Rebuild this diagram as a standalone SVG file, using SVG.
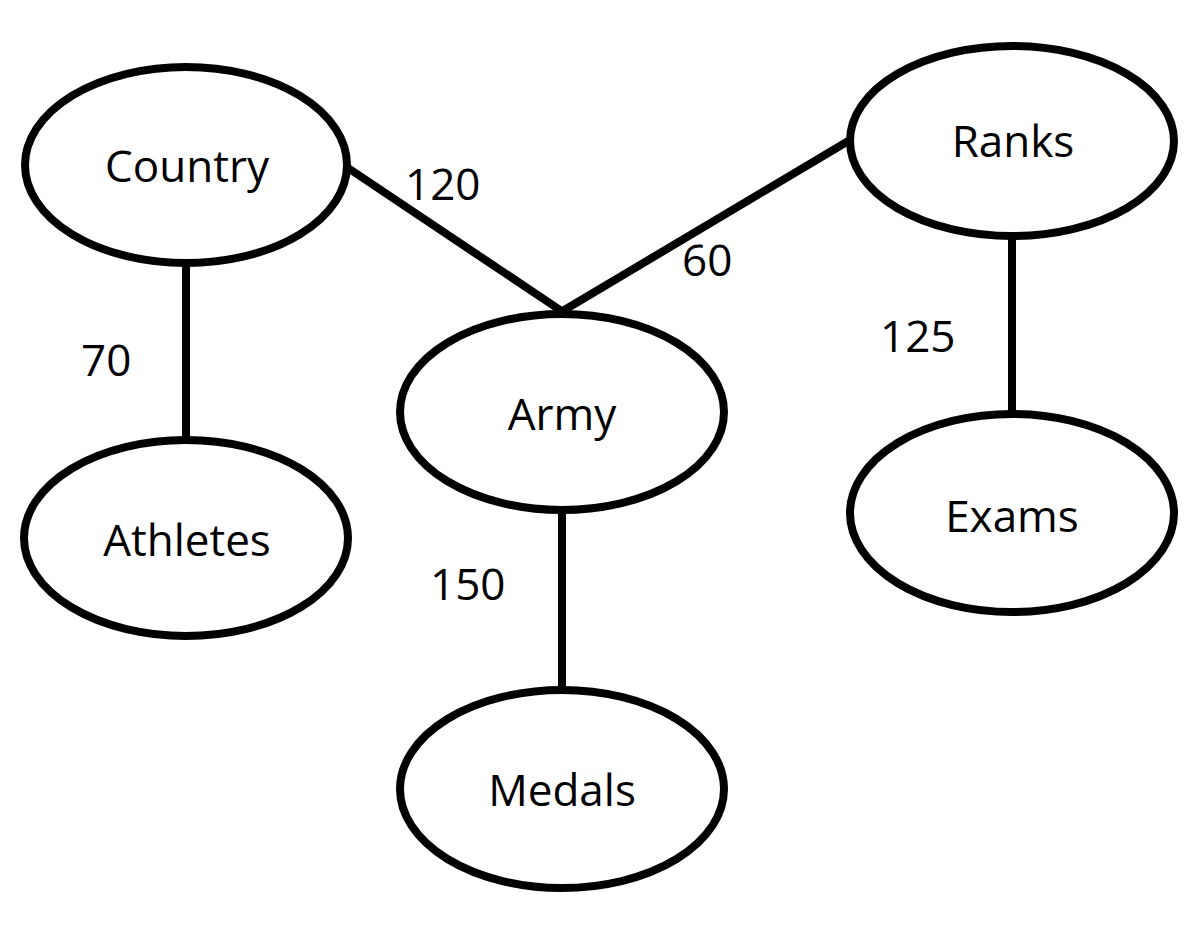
<svg xmlns="http://www.w3.org/2000/svg" width="1197" height="926" viewBox="0 0 1197 926">
<style>
.node ellipse{fill:#fff;stroke:#000;stroke-width:8}
.node text{font-family:"Open Sans","Liberation Sans",sans-serif;font-size:44px;fill:#000;text-anchor:middle}
.edges line{stroke:#000;stroke-width:8}
.lbl{font-family:"Open Sans","Liberation Sans",sans-serif;font-size:44px;fill:#000}
</style>
<rect width="1197" height="926" fill="#fff"/>
<g class="edges" id="connectors">
<line x1="348" y1="168" x2="563" y2="312"/>
<line x1="850" y1="140" x2="561" y2="312"/>
<line x1="186" y1="262" x2="186" y2="440"/>
<line x1="562" y1="510" x2="562" y2="690"/>
<line x1="1012" y1="236" x2="1012" y2="414"/>
<text class="lbl" x="405" y="200">120</text>
<text class="lbl" x="682" y="276">60</text>
<text class="lbl" x="81" y="376">70</text>
<text class="lbl" x="880" y="352">125</text>
<text class="lbl" x="430" y="600">150</text>
</g>
<g class="node" id="country"><ellipse cx="186" cy="165" rx="161" ry="98"/><text x="187" y="182">Country</text></g>
<g class="node" id="ranks"><ellipse cx="1012" cy="141" rx="162" ry="95"/><text x="1013" y="157">Ranks</text></g>
<g class="node" id="army"><ellipse cx="562" cy="412" rx="162" ry="98"/><text x="562" y="430">Army</text></g>
<g class="node" id="athletes"><ellipse cx="186" cy="538" rx="162" ry="98"/><text x="187" y="556">Athletes</text></g>
<g class="node" id="exams"><ellipse cx="1012" cy="513" rx="162" ry="99"/><text x="1012" y="532">Exams</text></g>
<g class="node" id="medals"><ellipse cx="562" cy="789" rx="162" ry="99"/><text x="562" y="806">Medals</text></g>
</svg>
